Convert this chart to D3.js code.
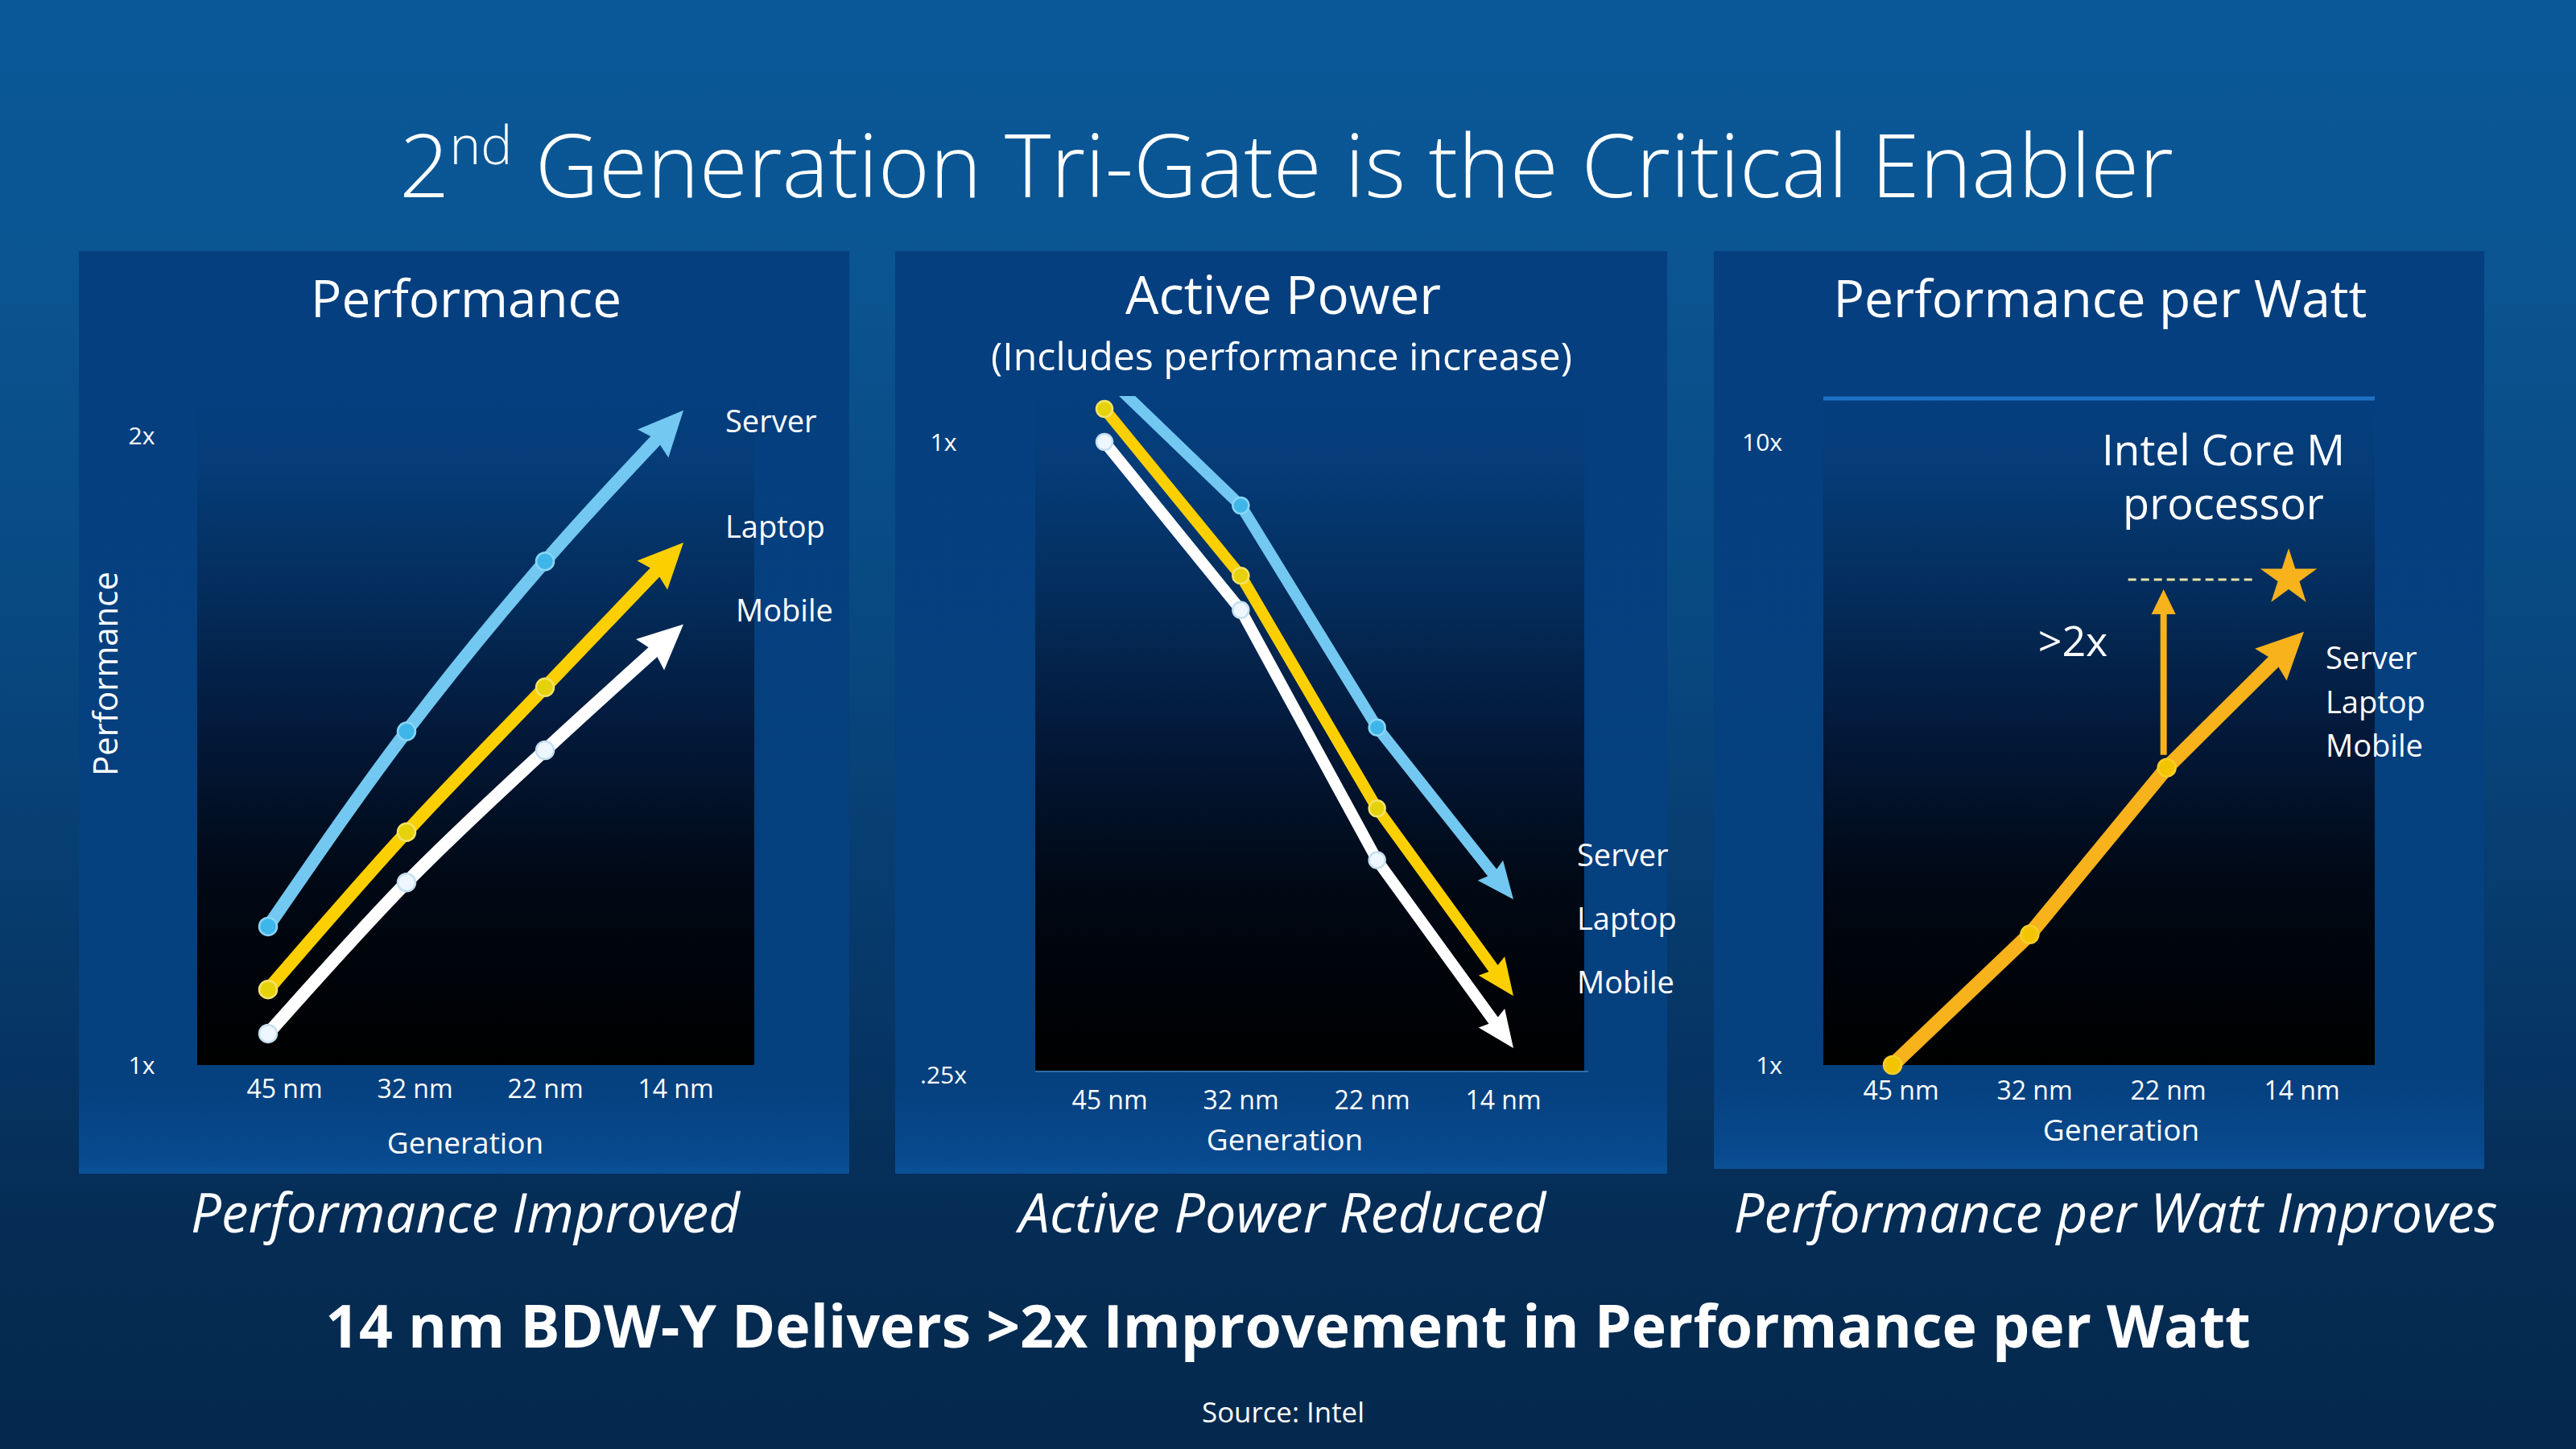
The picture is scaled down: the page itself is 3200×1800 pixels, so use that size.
<!DOCTYPE html>
<html><head><meta charset="utf-8">
<script src="https://cdn.jsdelivr.net/npm/d3@7"></script>
<style>
html,body{margin:0;padding:0;background:#073f74;}
svg{display:block;}
text{font-family:"Open Sans","Noto Sans",sans-serif;fill:#ffffff;}
</style></head><body>
<svg id="chart" width="3200" height="1800"></svg>
<script>
// ---------------- DATA ----------------
const generations = ["45 nm", "32 nm", "22 nm", "14 nm"];
const seriesNames = ["Server", "Laptop", "Mobile"];

// Performance (relative)
const perfServer = [1.22, 1.53, 1.80, 2.04];
const perfLaptop = [1.12, 1.37, 1.60, 1.83];
const perfMobile = [1.05, 1.29, 1.50, 1.70];
const perfTicks = [1, 2];
const perfTickLabels = ["1x", "2x"];

// Active power (relative, includes performance increase)
const powerServer = [1.16, 0.87, 0.535, 0.367];
const powerLaptop = [1.075, 0.746, 0.448, 0.297];
const powerMobile = [1.0, 0.692, 0.40, 0.265];
const powerTicks = [0.25, 1];
const powerTickLabels = [".25x", "1x"];

// Performance per watt (Server / Laptop / Mobile share one line)
const ppwAll = [1.0, 1.62, 3.0, 4.96];
const ppwCoreM = 6.05;          // Intel Core M processor (star, 14 nm)
const ppwTicks = [1, 10];
const ppwTickLabels = ["1x", "10x"];

// ---------------- STYLE ----------------
const seriesColors = {Server: "#72c8f0", Laptop: "#fcd000", Mobile: "#ffffff"};
const dotFill = {Server: "#3fb6ea", Laptop: "#e6d20a", Mobile: "#eef7ff"};
const dotStroke = {Server: "#8ad6f7", Laptop: "#f3e36a", Mobile: "#c5dff0"};
const orange = "#f7b21c";

const svg = d3.select("#chart");
const defs = svg.append("defs");

// background gradient
const bg = defs.append("linearGradient").attr("id", "bg").attr("x1", 0).attr("y1", 0).attr("x2", 0).attr("y2", 1);
[[0, "#0b5898"], [0.18, "#0a5592"], [0.45, "#08477f"], [0.72, "#063564"], [0.85, "#052c54"], [1, "#05294d"]]
  .forEach(([o, c]) => bg.append("stop").attr("offset", o).attr("stop-color", c));
svg.append("rect").attr("width", 3200).attr("height", 1800).attr("fill", "url(#bg)");

// panel gradient
const pg = defs.append("linearGradient").attr("id", "panelg").attr("x1", 0).attr("y1", 0).attr("x2", 0).attr("y2", 1);
[[0, "#053f7f"], [0.9, "#05407f"], [0.985, "#084a8e"], [1, "#0b5096"]]
  .forEach(([o, c]) => pg.append("stop").attr("offset", o).attr("stop-color", c));

// plot area gradient
const ag = defs.append("linearGradient").attr("id", "areag").attr("x1", 0).attr("y1", 0).attr("x2", 0).attr("y2", 1);
[[0, "#053f7f"], [0.1, "#053c78"], [0.3, "#042c5a"], [0.5, "#03193a"], [0.7, "#010a18"], [0.85, "#00040a"], [1, "#000000"]]
  .forEach(([o, c]) => ag.append("stop").attr("offset", o).attr("stop-color", c));

function fitText(sel, w) {
  const len = sel.node().getComputedTextLength();
  const fs = parseFloat(sel.attr("font-size"));
  sel.attr("font-size", fs * w / len);
  return sel;
}

// ---------------- TITLE ----------------
const title = svg.append("text").attr("x", 1598).attr("y", 245).attr("text-anchor", "middle")
  .attr("font-size", 118).attr("font-weight", 300);
title.append("tspan").text("2");
title.append("tspan").attr("font-size", "0.6em").attr("dy", "-0.62em").text("nd");
title.append("tspan").attr("dy", "0.372em").text(" Generation Tri-Gate is the Critical Enabler");
fitText(title, 2204);

// ---------------- PANELS ----------------
const panels = [
  {box: [98, 312, 957, 1146], area: [245, 495, 937, 1323], xr: [333, 849], lr: [353, 839], title: "Performance", tcx: 579,
   y: d3.scaleLinear().domain([1, 2]).range([1323, 541]), ticks: perfTicks, tickLabels: perfTickLabels,
   yAxisX: 176, tickY: 1353, genX: 578, genY: 1433},
  {box: [1112, 312, 959, 1146], area: [1286, 495, 1968, 1331], xr: [1372, 1880], lr: [1378, 1867], title: "Active Power", tcx: 1594,
   y: d3.scaleLog().domain([0.25, 1]).range([1335, 549]), ticks: powerTicks, tickLabels: powerTickLabels,
   yAxisX: 1172, tickY: 1367, genX: 1596, genY: 1429},
  {box: [2129, 312, 957, 1140], area: [2265, 495, 2950, 1323], xr: [2351, 2862], lr: [2361, 2859], title: "Performance per Watt", tcx: 2609,
   y: d3.scaleLog().domain([1, 10]).range([1323, 549]), ticks: ppwTicks, tickLabels: ppwTickLabels,
   yAxisX: 2214, tickY: 1355, genX: 2635, genY: 1417, anchorEnd: true}
];
const titleWidths = [386, 392, 663];

panels.forEach((p, i) => {
  p.x = d3.scalePoint().domain(generations).range(p.xr);
  p.xl = d3.scalePoint().domain(generations).range(p.lr);
  const g = svg.append("g");
  p.g = g;
  g.append("rect").attr("x", p.box[0]).attr("y", p.box[1]).attr("width", p.box[2]).attr("height", p.box[3])
    .attr("fill", "url(#panelg)");
  g.append("rect").attr("x", p.area[0]).attr("y", p.area[1]).attr("width", p.area[2] - p.area[0])
    .attr("height", p.area[3] - p.area[1]).attr("fill", "url(#areag)");
  const t = g.append("text").attr("x", p.tcx).attr("y", i === 1 ? 390 : 394).attr("text-anchor", "middle")
    .attr("font-size", 62).text(p.title);
  fitText(t, titleWidths[i]);

  // y axis
  const ya = g.append("g").attr("transform", `translate(${p.yAxisX},0)`)
    .call(d3.axisLeft(p.y).tickValues(p.ticks).tickFormat((d, k) => p.tickLabels[k]).tickSize(0).tickPadding(0));
  ya.select(".domain").remove();
  ya.selectAll("text").attr("x", 0).attr("dy", "0.35em").attr("font-size", 30)
    .attr("font-family", '"Open Sans","Noto Sans",sans-serif').attr("fill", "#ffffff")
    .attr("text-anchor", p.anchorEnd ? "end" : "middle");

  // x axis (generation labels)
  const xa = g.append("g").attr("transform", `translate(0,${p.tickY})`)
    .call(d3.axisBottom(p.xl).tickSize(0).tickPadding(0));
  xa.select(".domain").remove();
  xa.selectAll("text").attr("y", 0).attr("dy", "0.35em").attr("font-size", 32)
    .attr("font-family", '"Open Sans","Noto Sans",sans-serif').attr("fill", "#ffffff");

  g.append("text").attr("x", p.genX).attr("y", p.genY)
    .attr("text-anchor", "middle").attr("font-size", 37).text("Generation");
});

// subtitle panel 2
fitText(svg.append("text").attr("x", 1592).attr("y", 460).attr("text-anchor", "middle")
  .attr("font-size", 44).text("(Includes performance increase)"), 722);

// y title panel 1
fitText(svg.append("text").attr("transform", "translate(146,837) rotate(-90)").attr("text-anchor", "middle")
  .attr("font-size", 42).text("Performance"), 254);

// ---------------- ARROW HELPER ----------------
function drawArrow(g, pts, color, width, headLen, headW, curve) {
  const tip = pts[pts.length - 1], prev = pts[pts.length - 2];
  const dx = tip[0] - prev[0], dy = tip[1] - prev[1], L = Math.hypot(dx, dy);
  const ux = dx / L, uy = dy / L, px = -uy, py = ux;
  const base = [tip[0] - ux * headLen, tip[1] - uy * headLen];
  const lineEnd = [tip[0] - ux * headLen * 0.6, tip[1] - uy * headLen * 0.6];
  g.append("path").attr("d", d3.line().curve(curve)(pts.slice(0, -1).concat([lineEnd])))
    .attr("fill", "none").attr("stroke", color).attr("stroke-width", width).attr("stroke-linecap", "butt")
    .attr("stroke-linejoin", "round");
  g.append("path").attr("d", d3.line()([tip, [base[0] + px * headW, base[1] + py * headW],
      [base[0] + ux * headLen * 0.12, base[1] + uy * headLen * 0.12], [base[0] - px * headW, base[1] - py * headW]]) + "Z")
    .attr("fill", color);
}
function drawDots(g, pts, fill, stroke, r) {
  g.selectAll(null).data(pts).join("circle").attr("cx", d => d[0]).attr("cy", d => d[1]).attr("r", r)
    .attr("fill", fill).attr("stroke", stroke).attr("stroke-width", 2.5);
}

// ---------------- PANEL 1: PERFORMANCE ----------------
{
  const p = panels[0];
  const data = {Server: perfServer, Laptop: perfLaptop, Mobile: perfMobile};
  const lg = p.g.append("g");
  seriesNames.slice().reverse().forEach(s => {
    const pts = generations.map((gn, k) => [p.x(gn), p.y(data[s][k])]);
    drawArrow(lg, pts, seriesColors[s], 16, 56, 26, d3.curveMonotoneX);
    drawDots(lg, pts.slice(0, 3), dotFill[s], dotStroke[s], 11);
  });
  const lblY = [537, 668, 772], lblX = [901, 901, 914];
  seriesNames.forEach((s, k) => p.g.append("text").attr("x", lblX[k]).attr("y", lblY[k]).attr("font-size", 38).text(s));
}

// ---------------- PANEL 2: ACTIVE POWER ----------------
{
  const p = panels[1];
  defs.append("clipPath").attr("id", "clip2").append("rect")
    .attr("x", p.area[0]).attr("y", 492).attr("width", p.area[2] - p.area[0]).attr("height", p.area[3] - 492);
  const data = {Server: powerServer, Laptop: powerLaptop, Mobile: powerMobile};
  const lg = p.g.append("g").attr("clip-path", "url(#clip2)");
  seriesNames.slice().reverse().forEach(s => {
    const pts = generations.map((gn, k) => [p.x(gn), p.y(data[s][k])]);
    drawArrow(lg, pts, seriesColors[s], 14, 46, 20, d3.curveLinear);
    drawDots(lg, pts.slice(0, 3), dotFill[s], dotStroke[s], 10);
  });
  p.g.append("line").attr("x1", p.area[0]).attr("x2", p.area[2] + 5).attr("y1", p.area[3]).attr("y2", p.area[3])
    .attr("stroke", "#2d6aa8").attr("stroke-width", 2);
  const lblY = [1076, 1155, 1234];
  seriesNames.forEach((s, k) => p.g.append("text").attr("x", 1959).attr("y", lblY[k]).attr("font-size", 38).text(s));
}

// ---------------- PANEL 3: PERFORMANCE PER WATT ----------------
{
  const p = panels[2];
  const g = p.g;
  g.append("line").attr("x1", p.area[0]).attr("x2", p.area[2]).attr("y1", 495).attr("y2", 495)
    .attr("stroke", "#1f70c4").attr("stroke-width", 5);

  const pts = generations.map((gn, k) => [p.x(gn), p.y(ppwAll[k])]);
  // >2x arrow
  const ax = p.x(generations[2]) - 4;
  const yStar = p.y(ppwCoreM);
  g.append("line").attr("x1", ax).attr("x2", ax).attr("y1", p.y(ppwAll[2]) - 16).attr("y2", yStar + 40)
    .attr("stroke", orange).attr("stroke-width", 8);
  g.append("path").attr("d", d3.line()([[ax, yStar + 14], [ax + 15, yStar + 45], [ax - 15, yStar + 45]]) + "Z")
    .attr("fill", orange);
  // dashed reference
  g.append("line").attr("x1", ax - 44).attr("x2", p.x(generations[3]) - 62).attr("y1", yStar + 2).attr("y2", yStar + 2)
    .attr("stroke", "#e9e3a8").attr("stroke-width", 3).attr("stroke-dasharray", "10,6");
  // star
  g.append("path").attr("d", d3.symbol(d3.symbolStar, 1540)())
    .attr("transform", `translate(${p.x(generations[3]) - 19},${yStar})`).attr("fill", orange);

  drawArrow(g, pts, orange, 18, 58, 28, d3.curveLinear);
  drawDots(g, pts.slice(0, 3), "#f3c400", "#f6cf2a", 11);

  g.append("text").attr("x", 2575).attr("y", 815).attr("text-anchor", "middle").attr("font-size", 52).text(">2x");
  fitText(g.append("text").attr("x", 2762).attr("y", 578).attr("text-anchor", "middle").attr("font-size", 54)
    .text("Intel Core M"), 302);
  g.append("text").attr("x", 2762).attr("y", 645).attr("text-anchor", "middle").attr("font-size", 54).text("processor");
  const lblY = [831, 886, 940];
  seriesNames.forEach((s, k) => g.append("text").attr("x", 2889).attr("y", lblY[k]).attr("font-size", 38).text(s));
}

// ---------------- CAPTIONS ----------------
const captions = [["Performance Improved", 578, 682], ["Active Power Reduced", 1593, 655], ["Performance per Watt Improves", 2628, 949]];
captions.forEach(([t, cx, w]) => fitText(svg.append("text").attr("x", cx).attr("y", 1531).attr("text-anchor", "middle")
  .attr("font-size", 62).attr("font-style", "italic").attr("font-weight", 400).text(t), w));

fitText(svg.append("text").attr("x", 1600).attr("y", 1674).attr("text-anchor", "middle").attr("font-size", 76)
  .attr("font-weight", 700).text("14 nm BDW-Y Delivers >2x Improvement in Performance per Watt"), 2392);
fitText(svg.append("text").attr("x", 1594).attr("y", 1767).attr("text-anchor", "middle").attr("font-size", 34)
  .text("Source: Intel"), 202);
</script>
</body></html>
